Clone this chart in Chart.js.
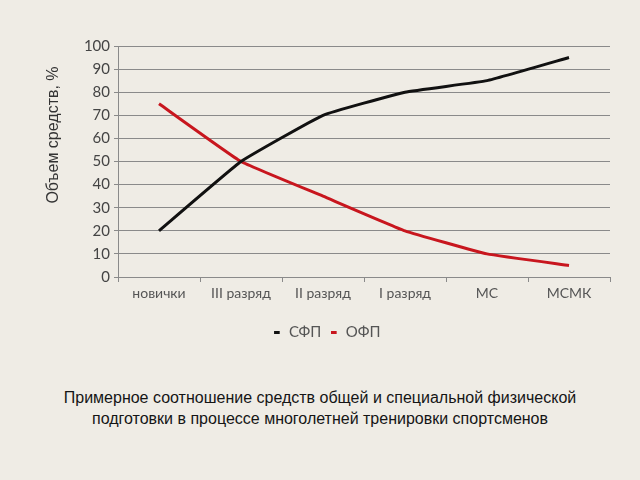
<!DOCTYPE html>
<html>
<head>
<meta charset="utf-8">
<script src="https://cdn.jsdelivr.net/npm/chart.js@4"></script>
<style>
  html, body { margin: 0; padding: 0; background: #efece5; }
  body { width: 640px; height: 480px; overflow: hidden; }
  #wrap { position: relative; width: 640px; height: 360px; }
  #caption {
    position: absolute; left: 0; top: 387px; width: 640px;
    text-align: center; font-family: "Liberation Sans", Arial, sans-serif;
    font-size: 16px; line-height: 21px; color: #151515;
  }
</style>
</head>
<body>
<div id="wrap"><canvas id="chart" width="640" height="360"></canvas></div>
<div id="caption">Примерное соотношение средств общей и специальной физической<br>подготовки в процессе многолетней тренировки спортсменов</div>
<script>
// Категории и значения
const categorias = ["новички", "III разряд", "II разряд", "I разряд", "МС", "МСМК"];
const sfp = [20, 50, 70, 80, 85, 95];
const ofp = [75, 50, 35, 20, 10, 5];
const ticksY = [0, 10, 20, 30, 40, 50, 60, 70, 80, 90, 100];
const tituloY = "Объем средств, %";

const gridCor = "#8a8a8a";

// Título do eixo Y um pouco acima do centro, como no original
const tituloEixo = {
  id: "tituloEixo",
  afterDraw(chart) {
    const ctx = chart.ctx;
    ctx.save();
    ctx.translate(54, 135);
    ctx.rotate(-Math.PI / 2);
    ctx.font = "16px 'Liberation Sans'";
    ctx.fillStyle = "#333";
    ctx.textAlign = "center";
    ctx.textBaseline = "middle";
    ctx.fillText(tituloY, 0, 0);
    ctx.restore();
  }
};

new Chart(document.getElementById("chart"), {
  type: "line",
  data: {
    labels: categorias,
    datasets: [
      { label: "СФП", data: sfp, borderColor: "#111111", backgroundColor: "#111111",
        borderWidth: 3, pointRadius: 0, tension: 0.1 },
      { label: "ОФП", data: ofp, borderColor: "#c8161e", backgroundColor: "#c8161e",
        borderWidth: 3, pointRadius: 0, tension: 0.1 }
    ]
  },
  options: {
    responsive: false,
    animation: false,
    layout: { padding: { top: 46, right: 30, left: 43, bottom: 10 } },
    plugins: {
      legend: {
        position: "bottom",
        labels: {
          usePointStyle: true, pointStyle: "line", boxWidth: 9, boxHeight: 4,
          color: "#555", font: { family: "Lato", size: 15 }, padding: 8
        }
      },
      tooltip: { enabled: false }
    },
    scales: {
      x: {
        offset: true,
        grid: { offset: true, drawOnChartArea: false, drawTicks: true, tickLength: 5, color: gridCor },
        border: { color: gridCor, width: 1 },
        ticks: { color: "#555", font: { family: "Lato", size: 14 }, padding: 3 },
        afterFit: s => { s.height = 40; }
      },
      y: {
        min: 0, max: 100,
        afterBuildTicks: s => { s.ticks = ticksY.map(v => ({ value: v })); },
        grid: { color: gridCor, tickLength: 4 },
        border: { color: gridCor, width: 1 },
        ticks: { color: "#444", font: { family: "Lato", size: 15 }, padding: 4 },
        afterFit: s => { s.width = 75; }
      }
    }
  },
  plugins: [tituloEixo]
});
</script>
</body>
</html>
